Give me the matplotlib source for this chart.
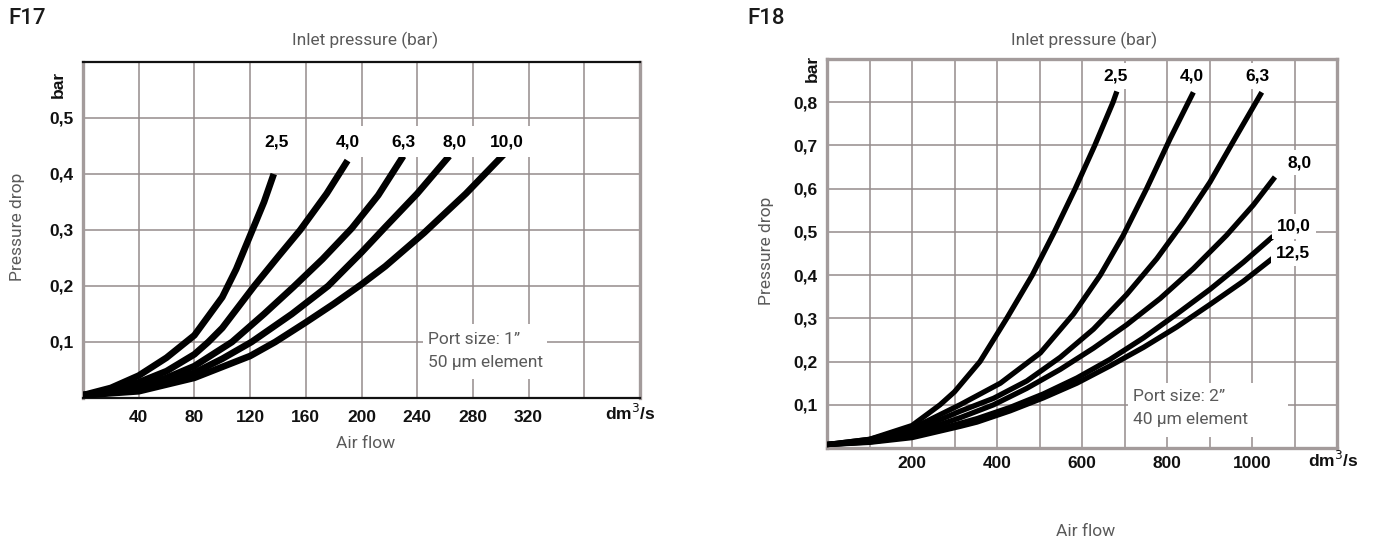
import matplotlib
matplotlib.use("Agg")
import matplotlib.pyplot as plt
from matplotlib.patches import Rectangle

# ================================
# Data
# ================================
# F17 - port size 1", 50 um element
f17_labels = ["2,5", "4,0", "6,3", "8,0", "10,0"]
f17_x = [
    [0, 20, 40, 60, 80, 100, 110, 120, 130, 137],
    [0, 20, 40, 60, 80, 90, 100, 123, 140, 156, 175, 190],
    [0, 20, 40, 60, 80, 107, 130, 151, 172, 193, 212, 230],
    [0, 40, 80, 100, 121, 150, 176, 200, 217, 240, 263],
    [0, 40, 80, 120, 138, 160, 180, 200, 217, 245, 275, 303],
]
f17_y = [
    [0.005, 0.018, 0.04, 0.072, 0.112, 0.18, 0.23, 0.29, 0.35, 0.40],
    [0.005, 0.012, 0.028, 0.048, 0.078, 0.10, 0.125, 0.20, 0.252, 0.30, 0.365, 0.424],
    [0.005, 0.01, 0.02, 0.036, 0.057, 0.10, 0.15, 0.198, 0.248, 0.303, 0.362, 0.432],
    [0.005, 0.015, 0.045, 0.07, 0.10, 0.15, 0.20, 0.26, 0.305, 0.365, 0.432],
    [0.005, 0.012, 0.036, 0.075, 0.10, 0.135, 0.168, 0.203, 0.235, 0.295, 0.365, 0.437],
]
f17_label_x = [139, 190, 230, 267, 304]
f17_label_y = [0.458, 0.458, 0.458, 0.458, 0.458]
f17_xticks = [40, 80, 120, 160, 200, 240, 280, 320]
f17_yticks = [0.1, 0.2, 0.3, 0.4, 0.5]
f17_ytick_labels = ["0,1", "0,2", "0,3", "0,4", "0,5"]

# F18 - port size 2", 40 um element
f18_labels = ["2,5", "4,0", "6,3", "8,0", "10,0", "12,5"]
f18_x = [
    [0, 100, 200, 266, 300, 360, 423, 483, 535, 584, 630, 673, 682],
    [0, 100, 200, 313, 408, 502, 580, 643, 697, 752, 807, 862],
    [0, 100, 200, 313, 392, 470, 549, 627, 705, 776, 839, 901, 964, 1023],
    [0, 100, 200, 313, 392, 470, 549, 627, 705, 784, 862, 940, 1003, 1054],
    [0, 100, 200, 313, 353, 431, 509, 588, 666, 745, 823, 901, 980, 1050],
    [0, 100, 200, 313, 353, 431, 509, 588, 666, 745, 823, 901, 980, 1050],
]
f18_y = [
    [0.008, 0.02, 0.052, 0.1, 0.13, 0.2, 0.3, 0.4, 0.5, 0.6, 0.7, 0.8, 0.825],
    [0.008, 0.02, 0.045, 0.1, 0.15, 0.22, 0.31, 0.4, 0.492, 0.6, 0.715, 0.823],
    [0.008, 0.017, 0.038, 0.085, 0.115, 0.155, 0.21, 0.275, 0.355, 0.438, 0.523, 0.615, 0.723, 0.823],
    [0.008, 0.015, 0.032, 0.07, 0.1, 0.138, 0.182, 0.231, 0.285, 0.346, 0.415, 0.492, 0.562, 0.627],
    [0.008, 0.014, 0.027, 0.057, 0.068, 0.094, 0.125, 0.162, 0.205, 0.255, 0.31, 0.367, 0.43, 0.49],
    [0.008, 0.013, 0.024, 0.05, 0.06, 0.086, 0.116, 0.15, 0.19, 0.233, 0.28, 0.332, 0.386, 0.44],
]
f18_label_x = [678, 859, 1012, 1111, 1099, 1097]
f18_label_y = [0.861, 0.861, 0.861, 0.66, 0.513, 0.45]
f18_xticks = [200, 400, 600, 800, 1000]
f18_yticks = [0.1, 0.2, 0.3, 0.4, 0.5, 0.6, 0.7, 0.8]
f18_ytick_labels = ["0,1", "0,2", "0,3", "0,4", "0,5", "0,6", "0,7", "0,8"]

# ================================
# Style
# ================================
W, H = 1375, 545
GRID = "#958b8b"
FRAME = "#a39b9b"
LIGHT = "#5a5a5a"
BOLD_FONT = ["Liberation Sans", "DejaVu Sans"]
THIN_FONT = ["Roboto", "DejaVu Sans"]
THIN_SIZE = 12.5
THIN_WEIGHT = "normal"

fig = plt.figure(figsize=(W / 100, H / 100), dpi=100)


def px_rect(l, t, r, b):
    return [l / W, 1 - b / H, (r - l) / W, (b - t) / H]


def ftext(x, y, s, **kw):
    fig.text(x / W, 1 - y / H, s, **kw)


def setup(ax, xmax, ymax, grid_x, grid_y, xticks, yticks, ylabels, xpad):
    ax.set_xlim(0, xmax)
    ax.set_ylim(0, ymax)
    for gx in grid_x:
        ax.axvline(gx, color=GRID, lw=1.1, zorder=1)
    for gy in grid_y:
        ax.axhline(gy, color=GRID, lw=1.1, zorder=1)
    ax.set_xticks(xticks)
    ax.set_xticklabels([str(t) for t in xticks])
    ax.set_yticks(yticks)
    ax.set_yticklabels(ylabels)
    ax.tick_params(length=0, labelsize=12.5)
    ax.tick_params(axis="x", pad=xpad)
    ax.tick_params(axis="y", pad=7)
    for lab in ax.get_xticklabels() + ax.get_yticklabels():
        lab.set_family(BOLD_FONT)
        lab.set_fontweight("bold")
        lab.set_color("#111111")


def thin(ax, x, y, s):
    ax.text(x, y, s, ha="left", va="center", fontsize=THIN_SIZE,
            family=THIN_FONT, fontweight=THIN_WEIGHT, color=LIGHT, zorder=4)


def fthin(x, y, s, rot=0):
    ftext(x, y, s, ha="center", va="center", rotation=rot, fontsize=THIN_SIZE,
          family=THIN_FONT, fontweight=THIN_WEIGHT, color=LIGHT)


# ================================
# F17
# ================================
ax1 = fig.add_axes(px_rect(83, 62, 640, 398))
setup(ax1, 400, 0.6, range(40, 400, 40), f17_yticks,
      f17_xticks, f17_yticks, f17_ytick_labels, 9)
for sp in ["top", "bottom"]:
    ax1.spines[sp].set_color("#111111")
    ax1.spines[sp].set_linewidth(1.6)
for sp in ["left", "right"]:
    ax1.spines[sp].set_color(FRAME)
    ax1.spines[sp].set_linewidth(2.4)

ax1.add_patch(Rectangle((244, 0.034), 89, 0.098, facecolor="white",
                        edgecolor="none", zorder=2))
for xs, ys in zip(f17_x, f17_y):
    ax1.plot(xs, ys, color="black", lw=4.8, solid_capstyle="butt",
             solid_joinstyle="round", zorder=3)
for lab, lx, ly in zip(f17_labels, f17_label_x, f17_label_y):
    ax1.text(lx, ly, lab, ha="center", va="center", fontsize=12.5,
             fontweight="bold", family=BOLD_FONT, zorder=4,
             bbox=dict(boxstyle="square,pad=0.45", fc="white", ec="none"))
thin(ax1, 248, 0.105, "Port size: 1\u201d")
thin(ax1, 248, 0.063, "50 \u00b5m element")
ax1.text(393, -0.027, "dm$^3$/s", ha="center", va="center", fontsize=12.5,
         fontweight="bold", family=BOLD_FONT, color="#111111")
ax1.text(-0.045, 0.934, "bar", transform=ax1.transAxes, rotation=90,
         ha="center", va="center", fontsize=12.5, fontweight="bold",
         family=BOLD_FONT, color="#111111")

ftext(8, 18, "F17", ha="left", va="center", fontsize=16, family=THIN_FONT,
      fontweight="medium", color="#1a1a1a")
fthin(365, 40, "Inlet pressure (bar)")
fthin(18, 227, "Pressure drop", rot=90)
fthin(366, 443, "Air flow")

# ================================
# F18
# ================================
ax2 = fig.add_axes(px_rect(827, 59, 1337, 448))
setup(ax2, 1200, 0.9, range(100, 1200, 100), f18_yticks,
      f18_xticks, f18_yticks, f18_ytick_labels, 6)
for sp in ax2.spines.values():
    sp.set_color(FRAME)
    sp.set_linewidth(2.4)

ax2.add_patch(Rectangle((708, 0.025), 377, 0.125, facecolor="white",
                        edgecolor="none", zorder=2))
for xs, ys in zip(f18_x, f18_y):
    ax2.plot(xs, ys, color="black", lw=3.8, solid_capstyle="butt",
             solid_joinstyle="round", zorder=3)
for lab, lx, ly in zip(f18_labels, f18_label_x, f18_label_y):
    ax2.text(lx, ly, lab, ha="center", va="center", fontsize=12.5,
             fontweight="bold", family=BOLD_FONT, zorder=4,
             bbox=dict(boxstyle="square,pad=0.3", fc="white", ec="none"))
thin(ax2, 720, 0.12, "Port size: 2\u201d")
thin(ax2, 720, 0.065, "40 \u00b5m element")
ax2.text(1190, -0.027, "dm$^3$/s", ha="center", va="center", fontsize=12.5,
         fontweight="bold", family=BOLD_FONT, color="#111111")
ax2.text(-0.029, 0.977, "bar", transform=ax2.transAxes, rotation=90,
         ha="center", va="center", fontsize=12.5, fontweight="bold",
         family=BOLD_FONT, color="#111111")

ftext(747, 18, "F18", ha="left", va="center", fontsize=16, family=THIN_FONT,
      fontweight="medium", color="#1a1a1a")
fthin(1084, 40, "Inlet pressure (bar)")
fthin(766, 251, "Pressure drop", rot=90)
fthin(1086, 532, "Air flow")

fig.savefig("out.png", dpi=100)
